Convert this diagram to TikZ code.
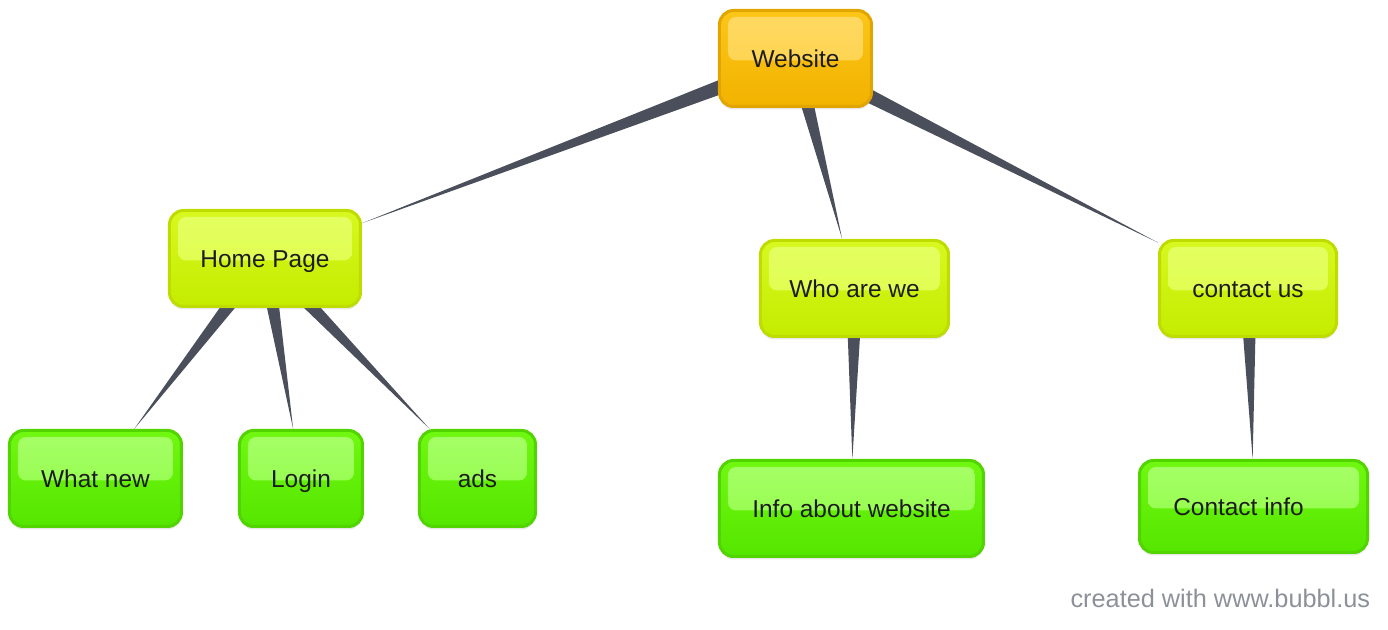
\documentclass[tikz,border=0pt]{standalone}
\usepackage{fontspec}
\setmainfont{Liberation Sans}
\usepackage{xcolor}
\usepackage{tikz}
\usetikzlibrary{positioning,calc,shadows,backgrounds}
\definecolor{rootedge}{RGB}{226,165,0}
\definecolor{roottop}{RGB}{252,198,24}
\definecolor{rootbot}{RGB}{242,178,0}
\definecolor{rootgloss}{RGB}{255,217,100}
\definecolor{oneedge}{RGB}{190,220,0}
\definecolor{onetop}{RGB}{216,248,32}
\definecolor{onebot}{RGB}{196,236,0}
\definecolor{onegloss}{RGB}{228,255,98}
\definecolor{twoedge}{RGB}{82,212,0}
\definecolor{twotop}{RGB}{112,248,16}
\definecolor{twobot}{RGB}{85,230,0}
\definecolor{twogloss}{RGB}{166,255,104}
\definecolor{linkgray}{RGB}{74,79,91}
\definecolor{textdark}{RGB}{28,28,28}
\definecolor{creditgray}{RGB}{140,144,153}

\begin{document}
\begin{tikzpicture}[
    every node/.style={font=\fontsize{13.9}{16}\selectfont},
    bubble/.style={
        rectangle, rounded corners=0.28cm, line width=0.06cm,
        minimum height=1.92cm, inner sep=0pt, text=textdark,
        text height=0.35cm, text depth=0pt,
        drop shadow={opacity=0.18, shadow xshift=0pt, shadow yshift=-0.06cm}
    },
    gloss/.style 2 args={path picture={
        \shade[top color=#1, bottom color=#1!55!#2, rounded corners=0.16cm]
            ([xshift=0.17cm, yshift=-0.13cm]path picture bounding box.north west)
            rectangle ([xshift=-0.17cm, yshift=-0.04cm]path picture bounding box.east);
    }},
    root/.style={bubble, draw=rootedge, top color=roottop, bottom color=rootbot, gloss={rootgloss}{roottop}},
    lvlone/.style={bubble, draw=oneedge, top color=onetop, bottom color=onebot, gloss={onegloss}{onetop}},
    lvltwo/.style={bubble, draw=twoedge, top color=twotop, bottom color=twobot, gloss={twogloss}{twotop}},
    taper/.style={fill=linkgray, to path={
        let \p1=($(\tikztostart)-(\tikztotarget)$), \n1={mod(atan2(\y1,\x1)+360,360)} in
        ($(\tikztostart.center)!0.17cm!90:(\tikztotarget.center)$)
        -- (\tikztotarget.\n1)
        -- ($(\tikztostart.center)!0.17cm!-90:(\tikztotarget.center)$) -- cycle
    }},
    credit/.style={text=creditgray, inner sep=0pt, font=\fontsize{14.4}{16}\selectfont}
]

\useasboundingbox (-15.91,1.17) rectangle (11.85,-11.43);

\node[root, minimum width=3.04cm] (web) {Website};

\node[lvlone, minimum width=3.82cm, below=2.02cm of web, xshift=-10.61cm] (home) {Home Page};
\node[lvlone, minimum width=3.76cm, below=2.62cm of web, xshift=1.18cm] (who) {Who are we};
\node[lvlone, minimum width=3.54cm, below=2.62cm of web, xshift=9.05cm] (contact) {contact us};

\node[lvltwo, minimum width=3.44cm, below=2.42cm of home, xshift=-3.39cm] (whatnew) {What new};
\node[lvltwo, minimum width=2.46cm, below=2.42cm of home, xshift=0.72cm] (login) {Login};
\node[lvltwo, minimum width=2.32cm, below=2.42cm of home, xshift=4.25cm] (ads) {ads};
\node[lvltwo, minimum width=5.28cm, below=2.42cm of who, xshift=-0.06cm] (info) {Info about website};
\node[lvltwo, minimum width=4.56cm, minimum height=1.84cm, below=2.42cm of contact, xshift=0.11cm] (cinfo) {Contact info\kern0.6cm};

\node[credit, anchor=east] (credit) at ([xshift=0.03cm, yshift=-0.88cm]cinfo.south east) {created with www.bubbl.us};

\begin{scope}[on background layer]
\fill[taper] (web) to (home);
\fill[taper] (web) to (who);
\fill[taper] (web) to (contact);
\fill[taper] (home) to (whatnew);
\fill[taper] (home) to (login);
\fill[taper] (home) to (ads);
\fill[taper] (who) to (info);
\fill[taper] (contact) to (cinfo);
\end{scope}

\end{tikzpicture}
\end{document}
